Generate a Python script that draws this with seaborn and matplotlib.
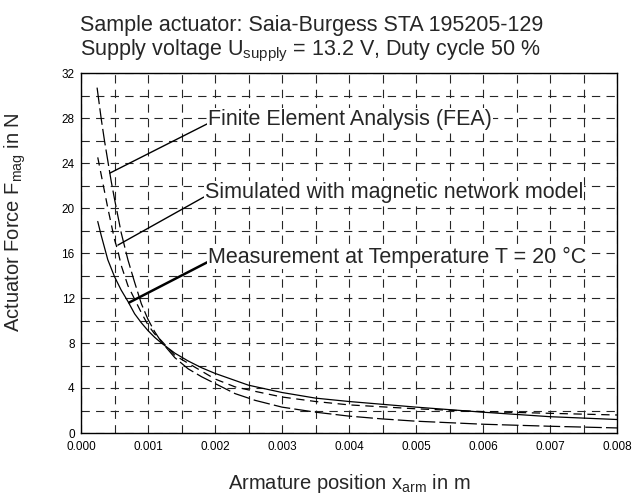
import numpy as np
import pandas as pd
import seaborn as sns
import matplotlib.pyplot as plt
from matplotlib.ticker import MultipleLocator, FormatStrFormatter

# --- curves (x in m, force in N)
x_fea = [0.00024, 0.0003, 0.00035, 0.0004, 0.00045, 0.0005, 0.0006, 0.0007, 0.0008, 0.0009,
         0.001, 0.0011, 0.0012, 0.0014, 0.0016, 0.0018, 0.002, 0.0023, 0.0026, 0.003,
         0.0035, 0.004, 0.0045, 0.005, 0.006, 0.007, 0.008]
f_fea = [30.7, 28.0, 26.0, 24.2, 22.4, 20.8, 17.8, 15.4, 13.4, 11.5,
         10.1, 9.0, 8.1, 6.7, 5.7, 5.0, 4.4, 3.5, 2.9, 2.3,
         1.85, 1.5, 1.25, 1.05, 0.78, 0.6, 0.45]

x_sim = [0.00025, 0.0003, 0.00035, 0.0004, 0.0005, 0.00055, 0.0006, 0.0007, 0.0008, 0.0009,
         0.001, 0.0011, 0.0012, 0.0014, 0.0016, 0.0018, 0.002, 0.0023, 0.0026, 0.003,
         0.0035, 0.004, 0.005, 0.006, 0.007, 0.008]
f_sim = [24.5, 23.0, 21.5, 20.0, 17.2, 16.2, 14.9, 13.1, 11.9, 10.7,
         9.6, 8.8, 8.2, 6.9, 6.2, 5.5, 4.8, 4.1, 3.7, 3.2,
         2.8, 2.5, 2.15, 1.9, 1.75, 1.6]

x_meas = [0.00025, 0.0003, 0.0004, 0.0005, 0.0006, 0.0007, 0.0008, 0.0009, 0.001, 0.0011,
          0.0012, 0.0014, 0.0016, 0.0018, 0.002, 0.0025, 0.003, 0.0035, 0.004, 0.005,
          0.006, 0.007, 0.008]
f_meas = [18.8, 17.6, 15.4, 13.9, 12.7, 11.7, 10.6, 9.8, 9.1, 8.5,
          8.0, 7.1, 6.4, 5.8, 5.3, 4.25, 3.6, 3.1, 2.8, 2.3,
          1.85, 1.45, 1.2]

labels = ["Finite Element Analysis (FEA)",
          "Simulated with magnetic network model",
          "Measurement at Temperature T = 20 \u00b0C"]
label_xy = [(0.0019, 27.9), (0.00185, 21.4), (0.0019, 15.6)]
leader_end = [(0.00043, 23.1), (0.00055, 16.7), (0.00072, 11.6)]

sns.set_style("white")
plt.rcParams['font.family'] = ['Liberation Sans', 'DejaVu Sans']
plt.rcParams['mathtext.fontset'] = 'custom'
plt.rcParams['mathtext.rm'] = 'Liberation Sans'
plt.rcParams['mathtext.it'] = 'Liberation Sans:italic'
plt.rcParams['lines.scale_dashes'] = False

fig = plt.figure(figsize=(6.32, 4.97), dpi=100)
ax = fig.add_axes([81/632, 1-433/497, (617-81)/632, (433-73)/497])

df_fea = pd.DataFrame({'x': x_fea, 'F': f_fea})
df_sim = pd.DataFrame({'x': x_sim, 'F': f_sim})
df_meas = pd.DataFrame({'x': x_meas, 'F': f_meas})

sns.lineplot(data=df_fea, x='x', y='F', ax=ax, color='black', lw=0.9,
             linestyle=(0, (12, 3)), sort=False)
sns.lineplot(data=df_sim, x='x', y='F', ax=ax, color='black', lw=0.9,
             linestyle=(0, (6, 4)), sort=False)
sns.lineplot(data=df_meas, x='x', y='F', ax=ax, color='black', lw=0.9, sort=False)

ax.set_xlim(0, 0.008)
ax.set_ylim(0, 32)
ax.xaxis.set_major_locator(MultipleLocator(0.001))
ax.xaxis.set_minor_locator(MultipleLocator(0.0005))
ax.yaxis.set_major_locator(MultipleLocator(4))
ax.yaxis.set_minor_locator(MultipleLocator(2))
ax.xaxis.set_major_formatter(FormatStrFormatter('%.3f'))
ax.yaxis.set_major_formatter(FormatStrFormatter('%d'))
ax.tick_params(which='both', direction='inout', length=7, width=0.8, colors='black',
               labelsize=8.5)
ax.tick_params(axis='x', pad=2)
ax.tick_params(axis='y', pad=1)
ax.grid(which='both', color='0.15', linestyle=(0, (6, 4.5)), linewidth=0.8)
for s in ax.spines.values():
    s.set_color('black')
    s.set_linewidth(1.0)

for txt, (tx, ty), (ex, ey) in zip(labels, label_xy, leader_end):
    lw = 1.8 if txt.startswith("Measurement") else 1.0
    ax.annotate(txt, xy=(ex, ey), xytext=(tx, ty), fontsize=15.5, va='center', ha='left',
                bbox=dict(boxstyle='square,pad=0.05', fc='white', ec='none'),
                arrowprops=dict(arrowstyle='-', color='black', lw=lw,
                                shrinkA=0, shrinkB=0, relpos=(0, 0.3)))

ax.set_xlabel(r'Armature position x$_{\mathrm{arm}}$ in m', fontsize=14.5, labelpad=14)
ax.set_ylabel(r'Actuator Force F$_{\mathrm{mag}}$ in N', fontsize=14.5)
ax.yaxis.set_label_coords(-0.098, 0.585)

fig.text(80/632, 1-25/497, 'Sample actuator: Saia-Burgess STA 195205-129',
         fontsize=15.5, ha='left', va='center')
fig.text(80/632, 1-51/497, r'Supply voltage U$_{\mathrm{supply}}$ = 13.2 V, Duty cycle 50 %',
         fontsize=15.5, ha='left', va='center')

plt.savefig('out.png', dpi=100)
